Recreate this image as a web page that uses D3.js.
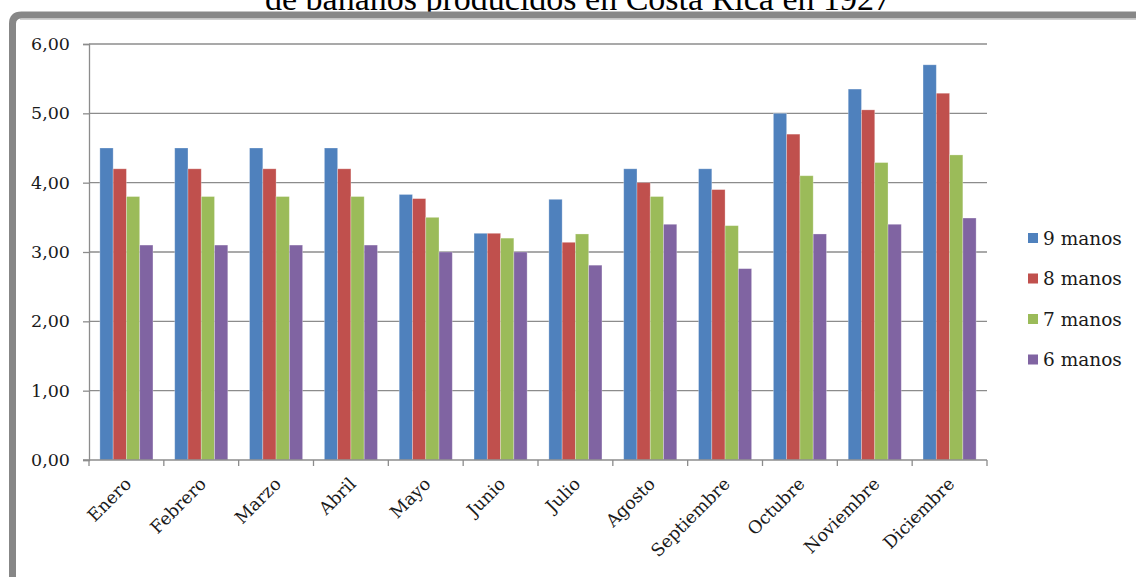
<!DOCTYPE html>
<html>
<head>
<meta charset="utf-8">
<script src="https://cdn.jsdelivr.net/npm/d3@7"></script>
<style>
  body { margin: 0; background: #fff; }
  svg { display: block; }
</style>
</head>
<body>
<div id="chart"></div>
<script>
(function() {

  var width = 1136,
      height = 577

  // data
  var months = ["Enero", "Febrero", "Marzo", "Abril", "Mayo", "Junio", "Julio",
                "Agosto", "Septiembre", "Octubre", "Noviembre", "Diciembre"]
  var seriesNames = ["9 manos", "8 manos", "7 manos", "6 manos"]
  var manos9 = [4.50, 4.50, 4.50, 4.50, 3.83, 3.27, 3.76, 4.20, 4.20, 5.00, 5.35, 5.70]
  var manos8 = [4.20, 4.20, 4.20, 4.20, 3.77, 3.27, 3.14, 4.00, 3.90, 4.70, 5.05, 5.29]
  var manos7 = [3.80, 3.80, 3.80, 3.80, 3.50, 3.20, 3.26, 3.80, 3.38, 4.10, 4.29, 4.40]
  var manos6 = [3.10, 3.10, 3.10, 3.10, 3.00, 3.00, 2.81, 3.40, 2.76, 3.26, 3.40, 3.49]
  var yTicks = [0, 1, 2, 3, 4, 5, 6]
  var colors = ["#4F81BD", "#C0504D", "#9BBB59", "#8064A2"]

  var seriesValues = [manos9, manos8, manos7, manos6]

  var margin = { left: 89, right: 149, top: 44, bottom: 117 }

  var svg = d3.select("#chart")
    .append("svg")
    .attr("width", width)
    .attr("height", height)

  // title line sitting above the frame (cut off at the top, as in the source)
  svg.append("text")
    .attr("x", 578)
    .attr("y", 10)
    .attr("text-anchor", "middle")
    .attr("font-family", "Liberation Serif")
    .attr("font-size", 34)
    .attr("fill", "#000")
    .text("de bananos producidos en Costa Rica en 1927")

  // grey frame
  svg.append("path")
    .attr("d", "M12.5,600 L12.5,24 Q12.5,15 21.5,15 L1150,15")
    .attr("fill", "none")
    .attr("stroke", "#878787")
    .attr("stroke-width", 7)
  svg.append("line")
    .attr("x1", 20).attr("x2", 1136)
    .attr("y1", 19.5).attr("y2", 19.5)
    .attr("stroke", "#d0d0d0")
    .attr("stroke-width", 1)

  var x0 = d3.scaleBand()
    .domain(months)
    .range([margin.left, width - margin.right])

  var x1 = d3.scaleBand()
    .domain(seriesNames)
    .range([0, x0.bandwidth()])
    .paddingOuter(0.82)

  var y = d3.scaleLinear()
    .domain([0, 6])
    .range([height - margin.bottom, margin.top])

  var locale = d3.formatLocale({ decimal: ",", thousands: ".", grouping: [3], currency: ["", ""] })
  var fmt = locale.format(".2f")

  // gridlines
  svg.append("g")
    .selectAll("line")
    .data(yTicks.slice(1))
    .enter().append("line")
    .attr("x1", margin.left)
    .attr("x2", width - margin.right)
    .attr("y1", function(d) { return y(d) })
    .attr("y2", function(d) { return y(d) })
    .attr("stroke", "#8c8c8c")
    .attr("stroke-width", 1.3)

  // y axis
  var yAxis = svg.append("g")
    .attr("transform", "translate(" + margin.left + ",0)")
    .call(d3.axisLeft(y).tickValues(yTicks).tickFormat(fmt).tickSize(6).tickPadding(13))
  yAxis.select(".domain").attr("stroke", "#8c8c8c").attr("stroke-width", 1.3)
  yAxis.selectAll(".tick line").attr("stroke", "#8c8c8c").attr("stroke-width", 1.3)
  yAxis.selectAll(".tick text")
    .attr("font-family", "DejaVu Serif")
    .attr("font-size", 17.5)
    .attr("fill", "#1a1a1a")

  // bars
  var groups = svg.append("g")
    .selectAll("g")
    .data(months)
    .enter().append("g")
    .attr("transform", function(d) { return "translate(" + x0(d) + ",0)" })

  groups.selectAll("rect")
    .data(function(m, i) {
      return seriesNames.map(function(s, j) {
        return { series: s, value: seriesValues[j][i], color: colors[j] }
      })
    })
    .enter().append("rect")
    .attr("x", function(d) { return x1(d.series) })
    .attr("width", x1.bandwidth())
    .attr("y", function(d) { return y(d.value) })
    .attr("height", function(d) { return y(0) - y(d.value) })
    .attr("fill", function(d) { return d.color })
    .attr("stroke", "rgba(255,255,255,0.35)")
    .attr("stroke-width", 0.8)

  // x axis line and boundary ticks
  var base = y(0)
  svg.append("line")
    .attr("x1", margin.left - 6)
    .attr("x2", width - margin.right)
    .attr("y1", base)
    .attr("y2", base)
    .attr("stroke", "#8c8c8c")
    .attr("stroke-width", 1.3)

  var bounds = months.map(function(m) { return x0(m) }).concat([width - margin.right])
  svg.append("g")
    .selectAll("line")
    .data(bounds)
    .enter().append("line")
    .attr("x1", function(d) { return d })
    .attr("x2", function(d) { return d })
    .attr("y1", base)
    .attr("y2", base + 6)
    .attr("stroke", "#8c8c8c")
    .attr("stroke-width", 1.3)

  // month labels
  svg.append("g")
    .selectAll("text")
    .data(months)
    .enter().append("text")
    .attr("transform", function(d) {
      return "translate(" + (x0(d) + x0.bandwidth() / 2 + 6) + "," + (base + 25) + ") rotate(-45)"
    })
    .attr("text-anchor", "end")
    .attr("font-family", "DejaVu Serif")
    .attr("font-size", 17.5)
    .attr("fill", "#1a1a1a")
    .text(function(d) { return d })

  // legend
  var legend = svg.append("g")
    .selectAll("g")
    .data(seriesNames)
    .enter().append("g")
    .attr("transform", function(d, i) { return "translate(1028," + (238 + i * 40.5) + ")" })

  legend.append("rect")
    .attr("x", 0)
    .attr("y", -5)
    .attr("width", 10)
    .attr("height", 10)
    .attr("fill", function(d, i) { return colors[i] })

  legend.append("text")
    .attr("x", 15)
    .attr("dy", "0.36em")
    .attr("font-family", "DejaVu Serif")
    .attr("font-size", 18.5)
    .attr("fill", "#1a1a1a")
    .text(function(d) { return d })

})()
</script>
</body>
</html>
